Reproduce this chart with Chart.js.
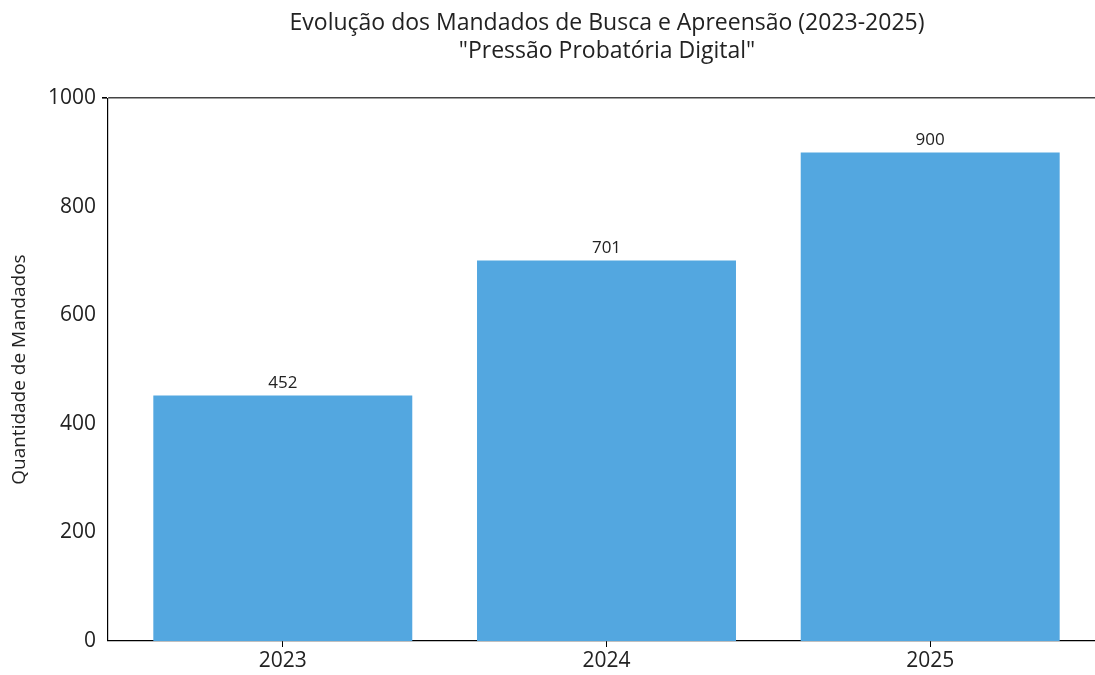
<!DOCTYPE html>
<html>
<head>
<meta charset="utf-8">
<script src="https://cdn.jsdelivr.net/npm/chart.js@4.4.1/dist/chart.umd.min.js"></script>
<style>
  html, body { margin: 0; padding: 0; overflow: hidden; background: #fff; }
  #wrap { width: 1214px; height: 675px; }
</style>
</head>
<body>
<div id="wrap"><canvas id="chart"></canvas></div>
<script>
const years = ['2023', '2024', '2025'];
const mandados = [452, 701, 900];
const yTicks = [0, 200, 400, 600, 800, 1000];

const FONT = '"Open Sans", Roboto, sans-serif';

// value labels above each bar
const barLabels = {
    id: 'barLabels',
    afterDatasetsDraw(chart) {
        const c = chart.ctx;
        const meta = chart.getDatasetMeta(0);
        c.save();
        c.font = '17px ' + FONT;
        c.fillStyle = '#222';
        c.textAlign = 'center';
        c.textBaseline = 'bottom';
        meta.data.forEach((bar, i) => {
            c.fillText(String(mandados[i]), bar.x, bar.y - 4);
        });
        c.restore();
    }
};

const ctx = document.getElementById('chart');

new Chart(ctx, {
    type: 'bar',
    data: {
        datasets: [{
            data: mandados.map((v, i) => ({ x: i, y: v })),
            backgroundColor: '#53a7e0',
            borderWidth: 0,
            categoryPercentage: 1,
            barPercentage: 0.8
        }]
    },
    options: {
        responsive: true,
        maintainAspectRatio: false,
        animation: false,
        layout: { padding: 0 },
        plugins: {
            legend: { display: false },
            tooltip: { enabled: false },
            title: {
                display: true,
                text: ['Evolução dos Mandados de Busca e Apreensão (2023-2025)', '"Pressão Probatória Digital"'],
                color: '#222',
                font: { family: FONT, size: 23, weight: 'normal', lineHeight: 1.22 },
                padding: { top: 9, bottom: 33 }
            }
        },
        scales: {
            x: {
                type: 'linear',
                offset: false,
                min: -0.54,
                max: 2.54,
                afterBuildTicks: (s) => { s.ticks = years.map((_, i) => ({ value: i })); },
                afterFit: (s) => { s.height = 34; },
                ticks: {
                    callback: (v) => years[v],
                    color: '#222',
                    font: { family: FONT, size: 21 },
                    padding: 1,
                    maxRotation: 0
                },
                grid: { offset: false, drawOnChartArea: false, tickLength: 6, tickColor: '#000' },
                border: { color: '#000', width: 1.2 }
            },
            y: {
                min: 0,
                max: 1000,
                afterBuildTicks: (s) => { s.ticks = yTicks.map(v => ({ value: v })); },
                afterFit: (s) => { s.width = 108; },
                ticks: {
                    callback: (v) => String(v),
                    color: '#222',
                    font: { family: FONT, size: 21 },
                    padding: 6
                },
                grid: {
                    color: (c) => c.tick && c.tick.value === 1000 ? '#444' : 'rgba(0,0,0,0)',
                    lineWidth: (c) => c.tick && c.tick.value === 1000 ? 1.6 : 0,
                    tickLength: 6,
                    tickColor: '#000'
                },
                border: { color: '#000', width: 1.2 },
                title: {
                    display: true,
                    text: 'Quantidade de Mandados',
                    color: '#222',
                    font: { family: FONT, size: 19 },
                    padding: { top: 8, bottom: 2 }
                }
            },
            // empty right-hand axis, only reserves the space cut off by the window
            yRight: {
                position: 'right',
                afterFit: (s) => { s.width = 109; },
                ticks: { display: false },
                grid: { display: false },
                border: { display: false }
            }
        }
    },
    plugins: [barLabels]
});
</script>
</body>
</html>
